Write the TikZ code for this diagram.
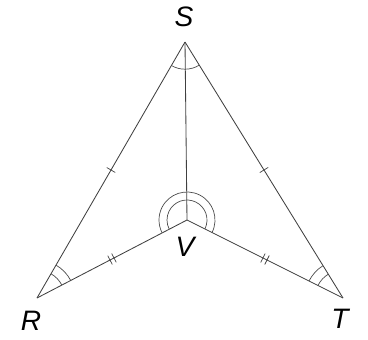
\documentclass[tikz,border=0pt]{standalone}
\usepackage{fontspec}
\setsansfont{Liberation Sans}
\usetikzlibrary{angles,decorations.markings}

\tikzset{
    side/.style={draw=black!75, line width=0.6pt},
    onetick/.style={postaction={decorate},
        decoration={markings, mark=at position 0.5 with
            {\draw[black!75, line width=0.5pt] (0,-3.5pt) -- (0,3.5pt);}}},
    twotick/.style={postaction={decorate},
        decoration={markings, mark=at position 0.5 with
            {\draw[black!75, line width=0.5pt] (-1.6pt,-3.5pt) -- (-1.6pt,3.5pt)
                (1.6pt,-3.5pt) -- (1.6pt,3.5pt);}}},
    vlabel/.style={font=\fontsize{20}{22}\selectfont\sffamily\itshape, inner sep=0pt},
    markarc/.style={draw=black!70, line width=0.5pt}
}

\begin{document}
\begin{tikzpicture}
    \useasboundingbox (0,0) rectangle (9.2,8.475);

    % Define coordinates
    \coordinate (S) at (4.625,7.425);
    \coordinate (R) at (0.925,1.025);
    \coordinate (T) at (8.575,1.025);
    \coordinate (V) at (4.675,2.975);

    % Vertex labels
    \node[vlabel] (labS) at (4.6,8.05) {S};
    \node[vlabel] (labR) at (0.775,0.45) {R};
    \node[vlabel] (labT) at (8.5,0.5) {T};
    \node[vlabel] (labV) at (4.625,2.3) {V};

    % Sides
    \draw[side, onetick] (R) -- (S);
    \draw[side, onetick] (S) -- (T);
    \draw[side, twotick] (R) -- (V);
    \draw[side, twotick] (V) -- (T);
    \draw[side] (S) -- (V);

    % Angle marks
    \pic[markarc, angle radius=0.68cm] {angle = R--S--T};
    \pic[markarc, angle radius=0.5cm] {angle = T--V--R};
    \pic[markarc, angle radius=0.7cm] {angle = T--V--R};
    \pic[markarc, angle radius=0.7cm] {angle = V--R--S};
    \pic[markarc, angle radius=0.95cm] {angle = V--R--S};
    \pic[markarc, angle radius=0.7cm] {angle = S--T--V};
    \pic[markarc, angle radius=0.95cm] {angle = S--T--V};
\end{tikzpicture}
\end{document}
